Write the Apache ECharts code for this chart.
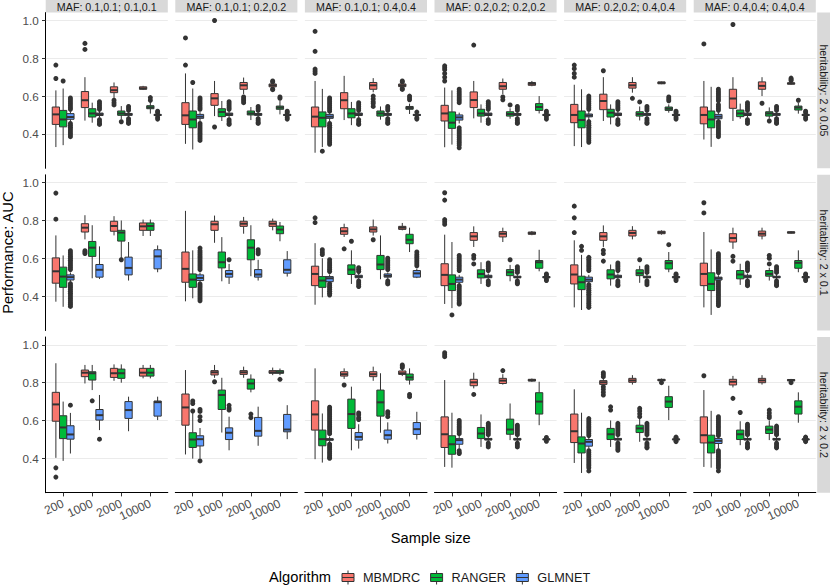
<!DOCTYPE html>
<html><head><meta charset="utf-8">
<script src="https://cdn.jsdelivr.net/npm/echarts@6/dist/echarts.min.js"></script>
<style>html,body{margin:0;padding:0;background:#fff}#c{width:830px;height:587px}</style>
</head><body><div id="c"></div>
<script>
const algorithms = ['MBMDRC', 'RANGER', 'GLMNET'];
const algColors = ['#F8766D', '#00BA38', '#619CFF'];
const sampleSizes = ['200', '1000', '2000', '10000'];
const mafLabels = ['MAF: 0.1,0.1; 0.1,0.1', 'MAF: 0.1,0.1; 0.2,0.2', 'MAF: 0.1,0.1; 0.4,0.4',
  'MAF: 0.2,0.2; 0.2,0.2', 'MAF: 0.2,0.2; 0.4,0.4', 'MAF: 0.4,0.4; 0.4,0.4'];
const heritLabels = ['heritability: 2 x 0.05', 'heritability: 2 x 0.1', 'heritability: 2 x 0.2'];
const yTicks = [0.4, 0.6, 0.8, 1.0];

// [min, Q1, median, Q3, max] per panel (rows: heritability, cols: MAF), per sample size
const mbmdrcStats = [
  [[0.33,0.45,0.503,0.542,0.63],[0.47,0.539,0.578,0.624,0.70],[0.59,0.618,0.631,0.649,0.672],[0.632,0.636,0.641,0.649,0.654]],
  [[0.347,0.45,0.498,0.565,0.72],[0.494,0.551,0.588,0.613,0.68],[0.61,0.636,0.657,0.672,0.698],[0.645,0.649,0.657,0.664,0.668]],
  [[0.30,0.437,0.491,0.542,0.68],[0.473,0.533,0.578,0.618,0.707],[0.62,0.636,0.657,0.672,0.695],[0.645,0.65,0.657,0.664,0.67]],
  [[0.329,0.468,0.508,0.551,0.645],[0.482,0.539,0.579,0.622,0.68],[0.61,0.636,0.652,0.672,0.693],[0.652,0.657,0.665,0.672,0.68]],
  [[0.335,0.459,0.50,0.556,0.66],[0.468,0.528,0.574,0.61,0.70],[0.618,0.642,0.657,0.672,0.70],[0.663,0.665,0.67,0.675,0.677]],
  [[0.37,0.453,0.50,0.542,0.68],[0.468,0.535,0.587,0.636,0.70],[0.60,0.636,0.654,0.675,0.70],[0.66,0.663,0.667,0.67,0.675]],
  [[0.37,0.468,0.531,0.602,0.721],[0.70,0.739,0.762,0.783,0.828],[0.721,0.743,0.771,0.796,0.823],[0.718,0.748,0.769,0.787,0.805]],
  [[0.372,0.473,0.544,0.633,0.851],[0.682,0.748,0.78,0.796,0.826],[0.73,0.769,0.783,0.796,0.819],[0.748,0.769,0.783,0.796,0.81]],
  [[0.354,0.455,0.517,0.558,0.68],[0.713,0.727,0.743,0.762,0.783],[0.72,0.739,0.753,0.766,0.805],[0.748,0.753,0.762,0.769,0.787]],
  [[0.358,0.455,0.512,0.571,0.725],[0.66,0.695,0.716,0.736,0.769],[0.686,0.713,0.73,0.741,0.762],[0.722,0.727,0.733,0.739,0.744]],
  [[0.34,0.464,0.514,0.565,0.695],[0.66,0.695,0.716,0.736,0.774],[0.70,0.718,0.734,0.748,0.77],[0.725,0.73,0.737,0.743,0.748]],
  [[0.34,0.455,0.517,0.574,0.739],[0.65,0.686,0.707,0.73,0.762],[0.70,0.718,0.73,0.744,0.762],[0.73,0.733,0.737,0.74,0.744]],
  [[0.402,0.596,0.685,0.749,0.903],[0.796,0.832,0.853,0.867,0.894],[0.81,0.828,0.85,0.876,0.897],[0.823,0.835,0.853,0.876,0.894]],
  [[0.42,0.575,0.669,0.74,0.867],[0.826,0.841,0.855,0.864,0.894],[0.826,0.844,0.855,0.864,0.885],[0.84,0.85,0.855,0.864,0.88]],
  [[0.395,0.549,0.632,0.704,0.876],[0.82,0.835,0.845,0.858,0.876],[0.81,0.832,0.845,0.858,0.885],[0.835,0.844,0.85,0.862,0.87]],
  [[0.354,0.457,0.527,0.619,0.814],[0.77,0.784,0.802,0.818,0.853],[0.79,0.796,0.811,0.823,0.845],[0.805,0.809,0.813,0.818,0.822]],
  [[0.375,0.483,0.543,0.634,0.765],[0.785,0.791,0.802,0.811,0.825],[0.79,0.802,0.812,0.823,0.84],[0.807,0.81,0.814,0.818,0.822]],
  [[0.354,0.481,0.522,0.619,0.761],[0.775,0.788,0.805,0.818,0.836],[0.79,0.80,0.812,0.823,0.84],[0.805,0.81,0.813,0.817,0.82]]
];
const mbmdrcOutliers = [
  [[0.764,0.693],[0.879,0.847],[0.578,0.565,0.553],[]],
  [[0.908,0.764],[1.0,0.436],[0.595,0.585,0.575,0.565],[0.68,0.675,0.638,0.634]],
  [[0.943,0.837,0.743,0.732,0.72],[],[0.60,0.585,0.57,0.56,0.545],[0.68,0.675,0.64,0.635]],
  [[0.76,0.75,0.74,0.72,0.70,0.68],[0.87],[0.595,0.58],[]],
  [[0.764,0.745,0.72,0.70],[0.734],[0.588],[]],
  [[0.876],[0.979],[0.562],[0.695,0.688,0.682]],
  [[0.945,0.807],[0.64,0.632,0.625],[],[]],
  [[],[],[],[]],
  [[0.814,0.789],[0.65],[0.698],[]],
  [[0.947,0.908,0.805,0.793,0.78],[0.615,0.60,0.57],[],[]],
  [[0.876,0.814,0.736],[0.642,0.625,0.585],[],[]],
  [[0.894,0.84],[0.61,0.585],[],[]],
  [[0.349,0.30],[],[],[]],
  [[],[0.805],[],[]],
  [[],[0.788],[],[0.894,0.888,0.88]],
  [[0.959,0.948,0.938],[0.738],[0.864],[]],
  [[],[0.853,0.843,0.832,0.779,0.765,0.75,0.735],[],[0.80]],
  [[0.837],[0.717],[],[0.80]]
];
const rangerStats = [
  [[0.34,0.437,0.476,0.524,0.64],[0.459,0.489,0.508,0.533,0.565],[0.476,0.498,0.508,0.521,0.547],[0.507,0.533,0.54,0.549,0.569]],
  [[0.317,0.432,0.476,0.521,0.64],[0.468,0.491,0.516,0.533,0.574],[0.473,0.50,0.508,0.521,0.542],[0.503,0.53,0.539,0.547,0.574]],
  [[0.33,0.437,0.485,0.516,0.638],[0.446,0.485,0.508,0.533,0.569],[0.475,0.494,0.508,0.521,0.545],[0.505,0.53,0.537,0.545,0.56]],
  [[0.343,0.429,0.459,0.516,0.63],[0.459,0.494,0.508,0.53,0.556],[0.48,0.494,0.505,0.517,0.535],[0.508,0.524,0.542,0.56,0.60]],
  [[0.33,0.432,0.473,0.521,0.636],[0.45,0.489,0.512,0.53,0.556],[0.471,0.494,0.505,0.517,0.545],[0.512,0.524,0.533,0.542,0.556]],
  [[0.331,0.432,0.476,0.521,0.649],[0.48,0.491,0.508,0.526,0.56],[0.48,0.494,0.508,0.517,0.54],[0.507,0.526,0.539,0.547,0.565]],
  [[0.343,0.446,0.503,0.553,0.615],[0.494,0.61,0.656,0.689,0.775],[0.60,0.691,0.736,0.748,0.80],[0.718,0.748,0.771,0.787,0.805]],
  [[0.388,0.446,0.487,0.517,0.642],[0.478,0.549,0.579,0.633,0.712],[0.505,0.592,0.656,0.698,0.775],[0.69,0.73,0.752,0.771,0.792]],
  [[0.393,0.446,0.482,0.503,0.60],[0.464,0.514,0.54,0.565,0.642],[0.489,0.54,0.567,0.615,0.721],[0.633,0.677,0.698,0.727,0.762]],
  [[0.336,0.429,0.464,0.512,0.686],[0.464,0.496,0.517,0.539,0.579],[0.478,0.508,0.526,0.54,0.565],[0.531,0.547,0.579,0.588,0.645]],
  [[0.326,0.434,0.473,0.505,0.618],[0.455,0.491,0.514,0.539,0.567],[0.47,0.508,0.521,0.539,0.56],[0.526,0.543,0.574,0.588,0.633]],
  [[0.30,0.429,0.464,0.523,0.647],[0.459,0.491,0.514,0.535,0.571],[0.482,0.505,0.517,0.535,0.55],[0.526,0.547,0.576,0.588,0.642]],
  [[0.386,0.504,0.563,0.625,0.70],[0.761,0.814,0.85,0.858,0.894],[0.80,0.823,0.85,0.872,0.897],[0.823,0.835,0.853,0.876,0.894]],
  [[0.398,0.457,0.499,0.535,0.64],[0.536,0.658,0.735,0.761,0.826],[0.749,0.766,0.796,0.819,0.844],[0.84,0.85,0.855,0.864,0.875]],
  [[0.377,0.466,0.501,0.549,0.637],[0.442,0.558,0.634,0.713,0.779],[0.535,0.623,0.696,0.761,0.85],[0.79,0.814,0.828,0.846,0.876]],
  [[0.35,0.421,0.474,0.519,0.641],[0.46,0.504,0.531,0.563,0.632],[0.496,0.527,0.552,0.607,0.69],[0.575,0.634,0.70,0.747,0.805]],
  [[0.322,0.428,0.478,0.513,0.641],[0.46,0.499,0.527,0.558,0.60],[0.487,0.536,0.558,0.575,0.61],[0.602,0.669,0.70,0.726,0.784]],
  [[0.35,0.428,0.483,0.522,0.651],[0.469,0.499,0.527,0.549,0.596],[0.496,0.531,0.552,0.57,0.60],[0.588,0.634,0.673,0.704,0.749]]
];
const rangerOutliers = [
  [[0.68],[],[0.464],[0.592,0.578]],
  [[0.672],[],[],[0.595,0.588]],
  [[0.308],[],[],[0.60,0.59,0.58]],
  [[],[],[0.553],[]],
  [[],[],[0.569],[0.595,0.585,0.575]],
  [[],[],[0.468],[0.578]],
  [[],[],[0.592],[]],
  [[],[],[],[]],
  [[0.645,0.632,0.62],[0.69],[],[]],
  [[0.30],[],[0.592],[]],
  [[0.663,0.642],[],[0.592],[0.672]],
  [[],[],[0.615,0.60,0.57],[]],
  [[],[0.704],[],[]],
  [[0.703,0.69,0.65],[],[0.634,0.615],[0.818]],
  [[],[],[],[0.738,0.726]],
  [[],[],[],[]],
  [[],[0.672,0.655],[0.664,0.65,0.635,0.62],[]],
  [[],[0.642],[0.655,0.64,0.625,0.615],[]]
];
const glmnetStats = [
  [[0.465,0.477,0.489,0.507,0.52],[0.485,0.497,0.504,0.51,0.522],[0.488,0.498,0.503,0.508,0.515],[0.493,0.497,0.50,0.503,0.507]],
  [[0.465,0.482,0.491,0.503,0.515],[0.485,0.497,0.504,0.51,0.522],[0.488,0.498,0.503,0.508,0.515],[0.493,0.497,0.50,0.503,0.507]],
  [[0.465,0.482,0.491,0.503,0.515],[0.485,0.497,0.504,0.51,0.522],[0.488,0.498,0.503,0.508,0.515],[0.493,0.497,0.50,0.503,0.507]],
  [[0.455,0.473,0.487,0.50,0.512],[0.485,0.497,0.504,0.51,0.522],[0.488,0.498,0.503,0.508,0.515],[0.493,0.497,0.50,0.503,0.507]],
  [[0.47,0.49,0.497,0.505,0.52],[0.485,0.497,0.504,0.51,0.522],[0.488,0.498,0.503,0.508,0.515],[0.493,0.497,0.50,0.503,0.507]],
  [[0.465,0.48,0.491,0.503,0.515],[0.485,0.497,0.504,0.51,0.522],[0.488,0.498,0.503,0.508,0.515],[0.493,0.497,0.50,0.503,0.507]],
  [[0.475,0.485,0.50,0.512,0.525],[0.49,0.50,0.539,0.567,0.663],[0.482,0.512,0.549,0.606,0.686],[0.526,0.544,0.61,0.645,0.668]],
  [[0.47,0.482,0.496,0.512,0.525],[0.464,0.50,0.517,0.535,0.57],[0.482,0.50,0.514,0.54,0.592],[0.503,0.521,0.539,0.592,0.638]],
  [[0.47,0.476,0.494,0.503,0.515],[0.488,0.497,0.503,0.51,0.52],[0.488,0.50,0.507,0.517,0.525],[0.495,0.50,0.52,0.535,0.545]],
  [[0.462,0.473,0.487,0.50,0.512],[0.488,0.497,0.503,0.51,0.52],[0.488,0.497,0.50,0.505,0.515],[0.493,0.497,0.50,0.503,0.507]],
  [[0.462,0.476,0.487,0.50,0.512],[0.488,0.497,0.503,0.51,0.52],[0.488,0.497,0.50,0.505,0.515],[0.493,0.497,0.50,0.503,0.507]],
  [[0.47,0.485,0.494,0.50,0.51],[0.488,0.497,0.503,0.51,0.52],[0.488,0.497,0.50,0.505,0.515],[0.493,0.497,0.50,0.503,0.507]],
  [[0.425,0.501,0.526,0.572,0.64],[0.549,0.602,0.628,0.658,0.735],[0.543,0.611,0.655,0.70,0.726],[0.602,0.623,0.697,0.703,0.726]],
  [[0.40,0.465,0.501,0.519,0.56],[0.442,0.499,0.535,0.561,0.62],[0.466,0.517,0.545,0.616,0.673],[0.501,0.54,0.552,0.632,0.681]],
  [[0.485,0.495,0.50,0.503,0.515],[0.451,0.496,0.513,0.536,0.58],[0.478,0.501,0.522,0.549,0.59],[0.499,0.526,0.554,0.589,0.646]],
  [[0.45,0.474,0.496,0.504,0.52],[0.488,0.497,0.50,0.505,0.515],[0.488,0.497,0.50,0.505,0.515],[0.495,0.498,0.50,0.502,0.505]],
  [[0.45,0.464,0.487,0.499,0.515],[0.488,0.497,0.50,0.505,0.515],[0.488,0.497,0.50,0.505,0.515],[0.495,0.498,0.50,0.502,0.505]],
  [[0.45,0.478,0.492,0.504,0.515],[0.488,0.497,0.50,0.505,0.515],[0.488,0.497,0.50,0.505,0.515],[0.495,0.498,0.50,0.502,0.505]]
];
const glmnetOutliers = [
  [[0.59,0.58,0.57,0.56,0.55,0.54,0.53,0.455,0.445,0.435,0.425,0.415,0.405,0.395,0.385],[0.57,0.56,0.55,0.54,0.53,0.475,0.465,0.455,0.45],[0.545,0.535,0.525,0.48,0.47,0.46,0.455],[0.52,0.512,0.488,0.478]],
  [[0.59,0.58,0.57,0.56,0.55,0.54,0.53,0.455,0.445,0.435,0.425,0.415,0.405,0.395,0.385,0.375,0.365],[0.57,0.56,0.55,0.54,0.53,0.475,0.465,0.455,0.45],[0.545,0.535,0.525,0.48,0.47,0.46,0.455],[0.52,0.512,0.488,0.478]],
  [[0.59,0.58,0.57,0.56,0.55,0.54,0.53,0.52,0.455,0.445,0.435,0.425,0.415,0.405,0.395,0.385,0.375,0.365,0.355,0.345],[0.565,0.555,0.545,0.535,0.525,0.475,0.465,0.455,0.45],[0.545,0.535,0.525,0.48,0.47,0.46,0.455],[0.515,0.485,0.478]],
  [[0.636,0.625,0.615,0.605,0.595,0.585,0.575,0.565,0.432,0.42,0.41,0.40,0.39,0.38,0.37,0.36,0.35,0.34,0.326],[0.57,0.56,0.55,0.54,0.53,0.475,0.465,0.455],[0.545,0.535,0.525,0.48,0.47,0.46,0.455],[0.52,0.51,0.49,0.478]],
  [[0.60,0.59,0.58,0.57,0.56,0.55,0.54,0.53,0.465,0.455,0.445,0.435,0.425,0.415,0.405,0.395,0.385,0.375,0.365,0.355],[0.57,0.56,0.55,0.54,0.53,0.475,0.465,0.455,0.45],[0.545,0.535,0.525,0.48,0.47,0.46,0.455],[0.52,0.512,0.488,0.478]],
  [[0.636,0.625,0.615,0.605,0.595,0.585,0.575,0.555,0.545,0.535,0.525,0.465,0.455,0.445,0.435,0.425,0.415,0.405,0.395,0.385],[0.565,0.555,0.545,0.535,0.525,0.475,0.465,0.455],[0.545,0.535,0.525,0.48,0.47,0.46,0.455],[0.52,0.512,0.488,0.478]],
  [[0.64,0.63,0.62,0.61,0.60,0.59,0.58,0.57,0.56,0.55,0.54,0.465,0.455,0.445,0.435,0.425,0.415,0.405,0.395,0.385,0.375,0.365,0.355,0.345],[],[],[]],
  [[0.654,0.64,0.63,0.62,0.61,0.60,0.59,0.58,0.57,0.56,0.55,0.54,0.464,0.455,0.445,0.435,0.425,0.415,0.405,0.395,0.385,0.375],[0.592],[0.645,0.634,0.624],[]],
  [[0.592,0.58,0.57,0.56,0.55,0.54,0.53,0.465,0.455,0.445,0.435,0.425,0.415,0.405],[0.55,0.54,0.53,0.48,0.47,0.46,0.45],[0.60,0.59,0.58,0.57,0.56,0.55,0.54,0.48,0.47,0.464],[0.633,0.62,0.61,0.60,0.59,0.58,0.57,0.56]],
  [[0.615,0.605,0.595,0.585,0.575,0.565,0.555,0.545,0.535,0.455,0.445,0.435,0.425,0.415,0.405,0.395,0.385,0.375,0.365,0.358],[0.575,0.565,0.555,0.545,0.535,0.48,0.47,0.46],[0.555,0.545,0.535,0.525,0.48,0.47,0.465],[0.517,0.51,0.49,0.482]],
  [[0.605,0.595,0.585,0.575,0.565,0.555,0.545,0.535,0.46,0.45,0.44,0.43,0.42,0.41,0.40,0.39,0.38,0.37,0.36,0.35,0.34],[0.575,0.565,0.555,0.545,0.535,0.48,0.47,0.46,0.455],[0.555,0.545,0.535,0.525,0.48,0.47,0.46],[0.517,0.51,0.49,0.482]],
  [[0.624,0.614,0.604,0.594,0.584,0.574,0.564,0.554,0.544,0.534,0.524,0.48,0.47,0.46,0.45,0.44,0.43,0.42,0.41,0.40,0.39,0.38,0.37,0.36,0.35],[0.575,0.565,0.555,0.545,0.535,0.48,0.47,0.46,0.455],[0.555,0.545,0.535,0.525,0.48,0.47,0.46,0.455],[0.517,0.51,0.49,0.482]],
  [[0.681],[0.501],[],[]],
  [[0.658,0.648,0.62,0.60,0.386],[0.68,0.665,0.655],[],[]],
  [[0.67,0.66,0.65,0.64,0.63,0.62,0.61,0.60,0.59,0.58,0.57,0.56,0.55,0.54,0.53,0.475,0.465,0.455,0.445,0.435,0.425,0.415,0.405,0.40],[0.64,0.63,0.615,0.605],[0.646,0.635,0.62],[]],
  [[0.60,0.59,0.58,0.57,0.56,0.55,0.54,0.53,0.44,0.43,0.425],[0.585,0.575,0.565,0.555,0.545,0.535,0.525,0.48,0.47,0.46],[0.575,0.565,0.555,0.545,0.535,0.525,0.48,0.47,0.46],[0.51,0.49]],
  [[0.61,0.60,0.59,0.58,0.57,0.56,0.55,0.54,0.53,0.52,0.44,0.43,0.42,0.41,0.40,0.39,0.38,0.37,0.36,0.35,0.333],[0.585,0.575,0.565,0.555,0.545,0.535,0.525,0.48,0.47,0.46,0.45,0.442],[0.585,0.575,0.565,0.555,0.545,0.535,0.525,0.48,0.47,0.46,0.455],[0.512,0.508,0.492,0.488]],
  [[0.62,0.61,0.60,0.59,0.58,0.57,0.56,0.55,0.54,0.53,0.52,0.44,0.43,0.42,0.41,0.40,0.39,0.38,0.37,0.36,0.35,0.333],[0.58,0.57,0.56,0.55,0.54,0.53,0.525,0.48,0.47,0.46,0.455],[0.57,0.56,0.55,0.54,0.53,0.525,0.48,0.47,0.46,0.455],[0.512,0.508,0.492,0.488]]
];

const statsByAlg = [mbmdrcStats, rangerStats, glmnetStats];
const outliersByAlg = [mbmdrcOutliers, rangerOutliers, glmnetOutliers];

// layout
const FONT = '"Liberation Sans", Arial, Helvetica, sans-serif';
const PL = 45.7, PW = 122.1, PSTEP = 129.6;
const PT = 12.6, PH = 155.7, PVSTEP = 162.2;
const Y_MIN = 0.2175, Y_MAX = 1.042;
const X_MIN = 0.4, X_MAX = 4.6;
const DODGE = 0.25, BOX_W = 0.25;

function renderBox(params, api) {
  const x = api.value(0);
  const pMin = api.coord([x, api.value(1)]);
  const pQ1 = api.coord([x, api.value(2)]);
  const pMed = api.coord([x, api.value(3)]);
  const pQ3 = api.coord([x, api.value(4)]);
  const pMax = api.coord([x, api.value(5)]);
  const hw = api.size([BOX_W / 2, 0])[0];
  const fill = api.visual('color');
  return {
    type: 'group',
    children: [
      {type: 'line', shape: {x1: pMax[0], y1: pMax[1], x2: pQ3[0], y2: pQ3[1]}, style: {stroke: '#333333', lineWidth: 1}},
      {type: 'line', shape: {x1: pQ1[0], y1: pQ1[1], x2: pMin[0], y2: pMin[1]}, style: {stroke: '#333333', lineWidth: 1}},
      {type: 'rect', shape: {x: pQ3[0] - hw, y: pQ3[1], width: 2 * hw, height: pQ1[1] - pQ3[1]},
        style: {fill: fill, stroke: '#333333', lineWidth: 1}},
      {type: 'line', shape: {x1: pMed[0] - hw, y1: pMed[1], x2: pMed[0] + hw, y2: pMed[1]}, style: {stroke: '#333333', lineWidth: 2}}
    ]
  };
}

const grids = [], xAxes = [], yAxes = [], series = [], graphics = [];
for (let r = 0; r < 3; r++) {
  for (let c = 0; c < 6; c++) {
    const k = r * 6 + c;
    const left = PL + c * PSTEP, top = PT + r * PVSTEP;
    grids.push({left: left, top: top, width: PW, height: PH});
    xAxes.push({
      gridIndex: k, type: 'value', min: X_MIN, max: X_MAX,
      axisLine: {show: r === 2, onZero: false, lineStyle: {color: '#000', width: 1}},
      axisTick: {show: r === 2, length: 3.7, customValues: [1, 2, 3, 4], lineStyle: {color: '#333'}},
      axisLabel: {show: r === 2, customValues: [1, 2, 3, 4], rotate: 25, margin: 10,
        formatter: v => sampleSizes[Math.round(v) - 1], color: '#4d4d4d', fontSize: 12, fontFamily: FONT},
      splitLine: {show: false}
    });
    yAxes.push({
      gridIndex: k, type: 'value', min: Y_MIN, max: Y_MAX,
      axisLine: {show: c === 0, onZero: false, lineStyle: {color: '#000', width: 1}},
      axisTick: {show: c === 0, length: 3.7, customValues: yTicks, lineStyle: {color: '#333'}},
      axisLabel: {show: c === 0, customValues: yTicks, margin: 7, formatter: v => v.toFixed(1),
        color: '#4d4d4d', fontSize: 11.7, fontFamily: FONT},
      splitLine: {show: true, lineStyle: {color: '#ebebeb', width: 1}}
    });
    for (let a = 0; a < 3; a++) {
      const stats = statsByAlg[a][k];
      const outs = outliersByAlg[a][k];
      const pts = [];
      outs.forEach((list, i) => list.forEach(v => pts.push([i + 1 + (a - 1) * DODGE, v])));
      series.push({
        type: 'scatter', name: algorithms[a], xAxisIndex: k, yAxisIndex: k, z: 2,
        symbolSize: 5, itemStyle: {color: '#333333', opacity: 1}, silent: true,
        data: pts
      });
      series.push({
        type: 'custom', name: algorithms[a], xAxisIndex: k, yAxisIndex: k, z: 3,
        itemStyle: {color: algColors[a]}, renderItem: renderBox, silent: true,
        encode: {x: 0, y: [1, 2, 3, 4, 5]},
        data: stats.map((s, i) => [i + 1 + (a - 1) * DODGE].concat(s))
      });
    }
  }
}

// strips (top: MAF, right: heritability)
for (let c = 0; c < 6; c++) {
  const left = PL + c * PSTEP;
  graphics.push({type: 'rect', left: left, top: 0, shape: {width: PW, height: PT}, style: {fill: '#d9d9d9'}, silent: true});
  graphics.push({type: 'text', x: left + PW / 2, y: PT / 2 + 0.5, silent: true,
    style: {text: mafLabels[c], fill: '#1a1a1a', fontSize: 10.7, fontFamily: FONT, textAlign: 'center', textVerticalAlign: 'middle'}});
}
const SX = PL + 5 * PSTEP + PW + 1.4;
for (let r = 0; r < 3; r++) {
  const top = PT + r * PVSTEP;
  graphics.push({type: 'rect', left: SX, top: top, shape: {width: 830 - SX, height: PH}, style: {fill: '#d9d9d9'}, silent: true});
  graphics.push({type: 'text', x: SX + (830 - SX) / 2, y: top + PH / 2, rotation: -Math.PI / 2, silent: true,
    style: {text: heritLabels[r], fill: '#1a1a1a', fontSize: 10.7, fontFamily: FONT, textAlign: 'center', textVerticalAlign: 'middle'}});
}
// axis titles and legend title
graphics.push({type: 'text', x: 8, y: PT + (PVSTEP * 2 + PH) / 2, rotation: Math.PI / 2, silent: true,
  style: {text: 'Performance: AUC', fill: '#000', fontSize: 14.7, fontFamily: FONT, textAlign: 'center', textVerticalAlign: 'middle'}});
graphics.push({type: 'text', x: PL + (5 * PSTEP + PW) / 2, y: 537.5, silent: true,
  style: {text: 'Sample size', fill: '#000', fontSize: 14.7, fontFamily: FONT, textAlign: 'center', textVerticalAlign: 'middle'}});
graphics.push({type: 'text', x: 269, y: 577, silent: true,
  style: {text: 'Algorithm', fill: '#000', fontSize: 14.7, fontFamily: FONT, textAlign: 'left', textVerticalAlign: 'middle'}});

const KEY_ICON = 'path://M6,0L6,3M0,3L12,3L12,7L0,7ZM0,7L12,7L12,11L0,11ZM6,11L6,14';

const chart = echarts.init(document.getElementById('c'), null, {renderer: 'svg'});
chart.setOption({
  animation: false,
  backgroundColor: '#ffffff',
  grid: grids, xAxis: xAxes, yAxis: yAxes, series: series,
  graphic: {elements: graphics},
  legend: {
    left: 336.5, top: 565, padding: 5, orient: 'horizontal', itemWidth: 12, itemHeight: 14, itemGap: 10,
    selectedMode: false,
    textStyle: {fontSize: 12.7, color: '#1a1a1a', fontFamily: FONT, padding: [0, 0, 0, 4]},
    data: algorithms.map((n, i) => ({name: n, icon: KEY_ICON,
      itemStyle: {color: algColors[i], borderColor: '#333333', borderWidth: 1}}))
  }
});
</script></body></html>
